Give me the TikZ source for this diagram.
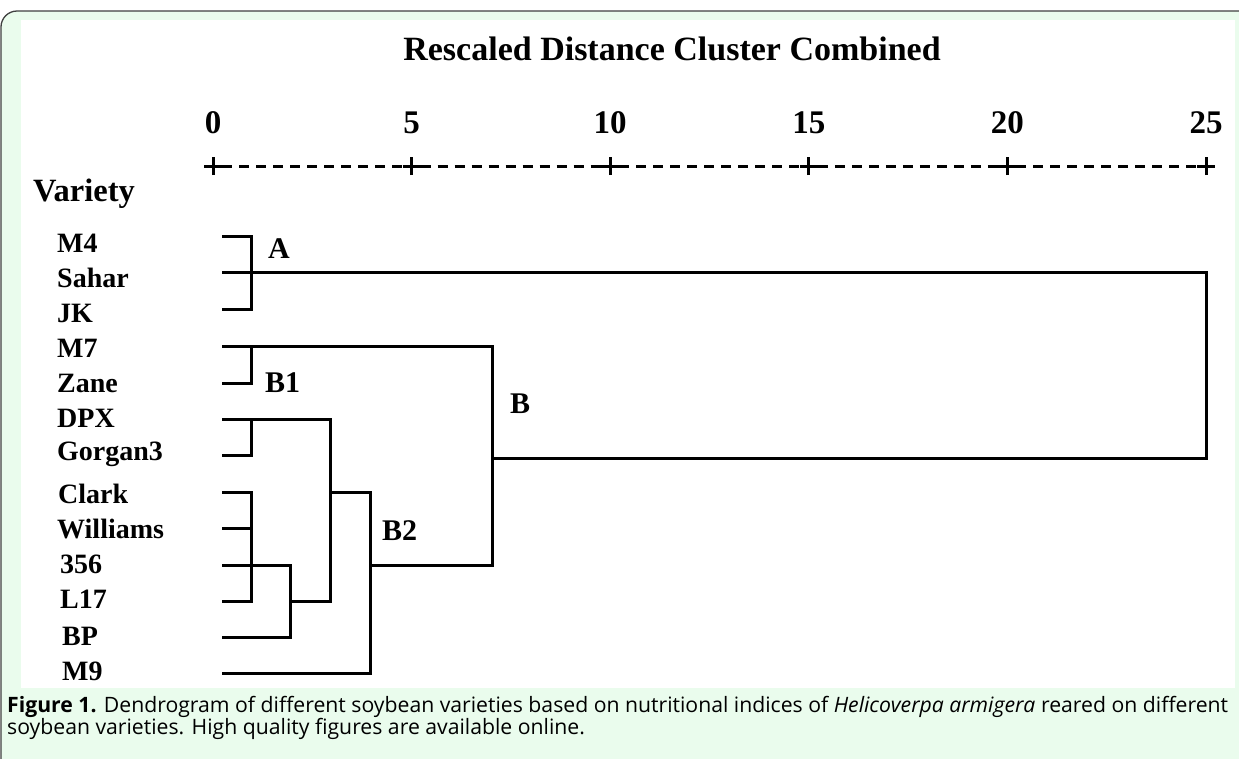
\documentclass[tikz,border=0pt]{standalone}
\usepackage{fontspec}
\setmainfont{Liberation Serif}
\newfontfamily\capfont{Open Sans}
\usetikzlibrary{positioning}
\definecolor{capgreen}{RGB}{234,252,237}
\tikzset{
    branch/.style={line width=3pt, line join=miter},
    leaf/.style={anchor=base west, inner sep=0pt, font=\bfseries\fontsize{28}{30}\selectfont},
    clab/.style={anchor=base west, inner sep=0pt, font=\bfseries\fontsize{30}{32}\selectfont},
    num/.style={anchor=base, inner sep=0pt, font=\bfseries\fontsize{33}{35}\selectfont},
    plus/.style={line width=3pt},
    axisdash/.style={line width=3pt, dash pattern=on 10pt off 7pt},
    capline/.style={anchor=base west, inner sep=0pt, font=\capfont\fontsize{21.2}{24}\selectfont},
}

\begin{document}
\begin{tikzpicture}[x=1pt,y=-1pt]
      \useasboundingbox (0,0) rectangle (1239,758);
      % frame
      \draw[fill=capgreen, draw=black!75, line width=1.3pt, rounded corners=16pt] (1,11) rectangle (1290,800);
      \fill[white] (21,20) rectangle (1235,688);

      % heading and axis
      \node[anchor=base, inner sep=0pt, font=\bfseries\fontsize{34}{36}\selectfont] (title) at (672,60) {Rescaled Distance Cluster Combined};
      \begin{scope}[shift={(213,166)}, x=39.72pt]
      \foreach \x in {0,5,...,25}{
        \draw[plus] ([xshift=-9pt]\x,0) -- ([xshift=9pt]\x,0);
        \draw[plus] ([yshift=-9pt]\x,0) -- ([yshift=9pt]\x,0);
        \node[num] (n\x) at ([yshift=33pt]\x,0) {\x};
      }
      \foreach \x in {0,5,...,20}
        \draw[axisdash] ([xshift=9pt]\x,0) -- ([xshift=190pt]\x,0);
      \end{scope}

      \node[anchor=base west, inner sep=0pt, font=\bfseries\fontsize{32.5}{34}\selectfont] (variety) at (33,201) {Variety};

      % leaves: name / line y / label x / baseline
      \foreach \v/\ly/\lx/\bl in {M4/236/57/252, Sahar/272/57/287, JK/309/57/322, M7/346/57/357,
          Zane/383/57/392, DPX/419/57/427, Gorgan3/455/57/460, Clark/492/58/503,
          Williams/528/57/538, 356/565/60/573, L17/601/60/608, BP/637/62/645, M9/673/62/680}{
        \node[leaf] (n\v) at (\lx,\bl) {\v};
        \coordinate (l\v) at (222,\ly);
      }

      % joints
      \coordinate (jA) at (251,272);
      \coordinate (jRoot) at (1206,458);
      \coordinate (jB) at (492,458);
      \coordinate (jB1) at (251,346);
      \coordinate (jB2) at (370,565);
      \coordinate (jBbot) at (492,565);
      \coordinate (jDG) at (251,419);
      \coordinate (jCL) at (251,492);
      \coordinate (jBP) at (290,601);
      \coordinate (jDL) at (330,601);
      \coordinate (jDLtop) at (330,492);
      \coordinate (jM9) at (370,492);

      \draw[branch] (lM4) -| (jA) |- (lJK);
      \draw[branch] (lSahar) -| (jRoot) -- (jB);
      \draw[branch] (lM7) -| (jBbot) -- (jB2);
      \draw[branch] (lZane) -| (jB1);
      \draw[branch] (lDPX) -| (jDL) -- (jBP);
      \draw[branch] (lGorgan3) -| (jDG);
      \draw[branch] (lClark) -| (lL17 -| jCL) -- (lL17);
      \draw[branch] (lWilliams) -- (lWilliams -| jCL);
      \draw[branch] (l356) -| (jBP) |- (lBP);
      \draw[branch] (lM9) -| (jM9) -- (jDLtop);

      % cluster names
      \node[clab] (cA) at (268,258) {A};
      \node[clab] (cB1) at (265,392) {B1};
      \node[clab] (cB) at (510,413) {B};
      \node[clab] (cB2) at (382,540) {B2};

      % caption
      \node[capline] (cap1) at (7,712) {\textbf{Figure 1.} Dendrogram of different soybean varieties based on nutritional indices of \textit{Helicoverpa armigera} reared on different};
      \node[capline] (cap2) at (7,734) {soybean varieties. High quality figures are available online.};
\end{tikzpicture}
\end{document}
